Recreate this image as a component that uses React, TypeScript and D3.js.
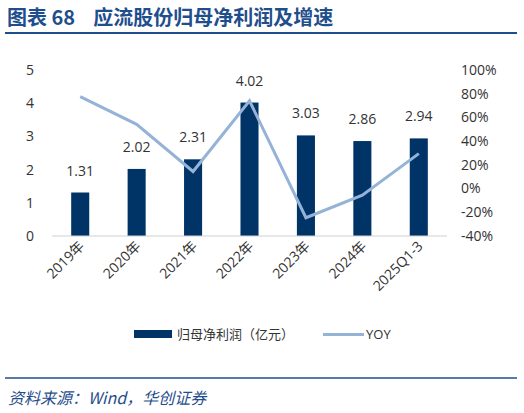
import React from "react";
import * as d3 from "d3";

const categories = ["2019年", "2020年", "2021年", "2022年", "2023年", "2024年", "2025Q1-3"];
const profit = [1.31, 2.02, 2.31, 4.02, 3.03, 2.86, 2.94];
const yoy = [77.5, 54.2, 14.4, 74.0, -24.6, -5.6, 29.5];
const leftTicks = [0, 1, 2, 3, 4, 5];
const rightTicks = [-40, -20, 0, 20, 40, 60, 80, 100];

const W = 524;
const H = 413;
const barColor = "#003366";
const lineColor = "#95b3d7";
const titleColor = "#1f4e8c";
const font = "'Open Sans', 'Noto Sans CJK SC', sans-serif";

export default function App() {
  const x = d3.scaleBand().domain(categories).range([52, 447]).paddingInner(0.68).paddingOuter(0.34);
  const yL = d3.scaleLinear().domain([0, 5]).range([236, 70]);
  const yR = d3.scaleLinear().domain([-40, 100]).range([236, 70]);
  const line = d3
    .line<number>()
    .x((d, i) => (x(categories[i]) as number) + x.bandwidth() / 2)
    .y(d => yR(d));

  return (
    <svg width={W} height={H} style={{ position: "absolute", left: 0, top: 0, background: "#fff" }}>
      <text x={7} y={25} fontFamily="'Noto Sans CJK SC', sans-serif" fontWeight={700} fontSize={20} fill={titleColor}>
        图表 68<tspan dx={18}>应流股份归母净利润及增速</tspan>
      </text>
      <line x1={5} x2={517} y1={33} y2={33} stroke={titleColor} strokeWidth={2} />

      {leftTicks.map(t => (
        <text key={"l" + t} x={34} y={yL(t)} dy="0.35em" textAnchor="end" fontFamily={font} fontSize={14} fill="#333">
          {t}
        </text>
      ))}
      {rightTicks.map(t => (
        <text key={"r" + t} x={461} y={yR(t)} dy="0.35em" textAnchor="start" fontFamily={font} fontSize={14} fill="#333">
          {t}%
        </text>
      ))}

      {categories.map((c, i) => (
        <g key={c}>
          <rect
            x={x(c) as number}
            y={yL(profit[i])}
            width={x.bandwidth()}
            height={yL(0) - yL(profit[i])}
            fill={barColor}
          />
          <text
            x={(x(c) as number) + x.bandwidth() / 2}
            y={yL(profit[i]) - 17}
            textAnchor="middle"
            fontFamily={font}
            fontSize={14}
            fill="#333"
          >
            {profit[i].toFixed(2)}
          </text>
          <text
            transform={`translate(${(x(c) as number) + x.bandwidth() / 2 + 5},${247}) rotate(-45)`}
            textAnchor="end"
            fontFamily={font}
            fontSize={14}
            fill="#333"
          >
            {c}
          </text>
        </g>
      ))}
      <line x1={52} x2={447} y1={yL(0)} y2={yL(0)} stroke="#d0d0d0" strokeWidth={1} />

      <path d={line(yoy) as string} fill="none" stroke={lineColor} strokeWidth={3} />

      <rect x={134} y={330} width={38} height={8} fill={barColor} />
      <text x={177} y={334} dy="0.35em" fontFamily={font} fontSize={13} fill="#333">
        归母净利润（亿元）
      </text>
      <line x1={323} x2={364} y1={334.5} y2={334.5} stroke={lineColor} strokeWidth={3} />
      <text x={366} y={334} dy="0.35em" fontFamily={font} fontSize={13} fill="#333">
        YOY
      </text>

      <line x1={5} x2={517} y1={378} y2={378} stroke={titleColor} strokeWidth={1.5} />
      <text x={8} y={404} fontFamily="'Noto Sans CJK SC', serif" fontStyle="italic" fontSize={16} fill={titleColor}>
        资料来源：Wind，华创证券
      </text>
    </svg>
  );
}
